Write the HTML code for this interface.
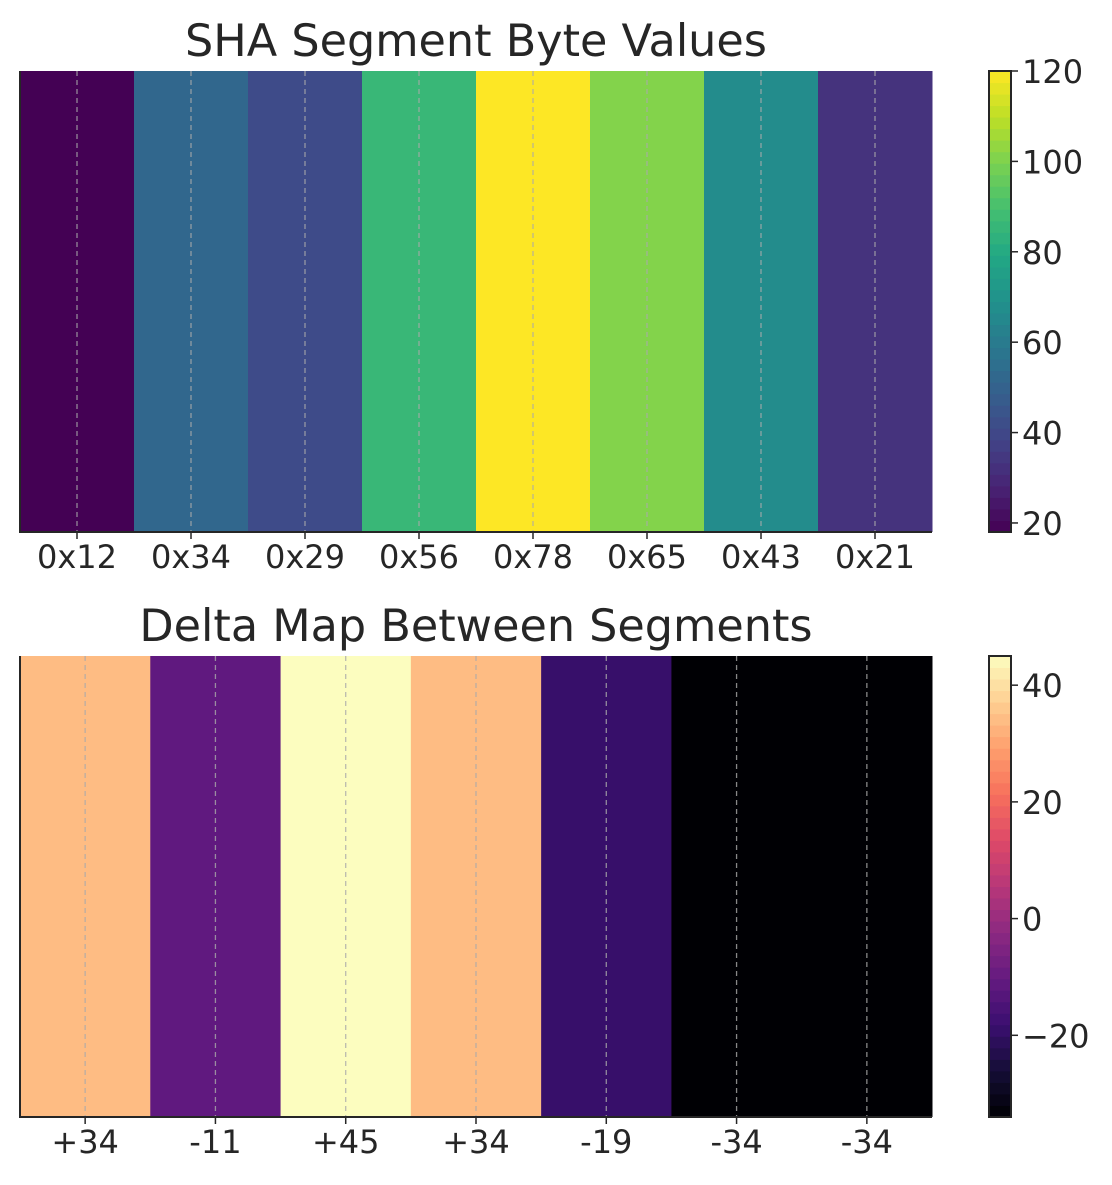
<!DOCTYPE html>
<html><head><meta charset="utf-8"><style>
body{margin:0;background:#fff;width:1112px;height:1180px;overflow:hidden}
svg text{font-family:"DejaVu Sans","Liberation Sans",sans-serif;fill:#262626}
</style></head><body>
<svg id="c" width="1112" height="1180" xmlns="http://www.w3.org/2000/svg"></svg>
<script>
const topCategories=["0x12","0x34","0x29","0x56","0x78","0x65","0x43","0x21"];
const topValues=[18,52,41,86,120,101,67,33];
const topTicks=[20,40,60,80,100,120];
const botCategories=["+34","-11","+45","+34","-19","-34","-34"];
const botValues=[34,-11,45,34,-19,-34,-34];
const botTicks=[-20,0,20,40];

const VIR=["#440154","#482475","#414487","#355f8d","#2a788e","#21918c","#22a884","#44bf70","#7ad151","#bddf26","#fde725"];
const MAG=["#000004","#140e36","#3b0f70","#641a80","#8c2981","#b73779","#de4968","#f7705c","#fe9f6d","#fecf92","#fcfdbf"];
function hx(h){return [1,3,5].map(i=>parseInt(h.substr(i,2),16));}
function cmap(a,t){t=Math.max(0,Math.min(1,t));const p=t*(a.length-1),i=Math.min(Math.floor(p),a.length-2),f=p-i;
 const c0=hx(a[i]),c1=hx(a[i+1]);return "rgb("+c0.map((v,k)=>Math.round(v+(c1[k]-v)*f)).join(",")+")";}
const NS="http://www.w3.org/2000/svg",svg=document.getElementById("c");
function el(t,at,txt){const e=document.createElementNS(NS,t);for(const k in at)e.setAttribute(k,at[k]);if(txt!=null)e.textContent=txt;svg.appendChild(e);return e;}

function panel(cats,vals,ticks,pal,title,y0,y1,prefix){
 const x0=20,x1=932,cx0=989,cx1=1011;
 const vmin=Math.min(...vals),vmax=Math.max(...vals);
 const w=(x1-x0)/cats.length;
 const xs=i=>x0+w*i;
 const cy=v=>y1-(v-vmin)/(vmax-vmin)*(y1-y0);
 let t=el("text",{x:(x0+x1)/2,y:y0-15,"text-anchor":"middle","font-size":"44.5"},title);
 
 
 vals.forEach((v,i)=>{
  let r=el("rect",{x:xs(i),y:y0,width:w+0.5,height:y1-y0,fill:cmap(pal,(v-vmin)/(vmax-vmin))});
  
  
  const gx=xs(i)+w/2;
  let g=el("line",{x1:gx,x2:gx,y1:y0,y2:y1,stroke:"#aaa","stroke-dasharray":"5,4","stroke-width":"1.3",opacity:"0.8"});
  
  
  el("line",{x1:gx,x2:gx,y1:y1,y2:y1+7,stroke:"#262626","stroke-width":"1.5"});
  let l=el("text",{x:gx,y:y1+36,"text-anchor":"middle","font-size":"32"},cats[i]);
  
  
 });
 el("path",{d:`M${x0} ${y0}V${y1}H${x1}`,fill:"none",stroke:"#262626","stroke-width":"2"});
 const N=40;
 for(let k=0;k<N;k++){
  const a=vmin+(vmax-vmin)*k/N,b=vmin+(vmax-vmin)*(k+1)/N;
  let s=el("rect",{x:cx0,y:cy(b),width:cx1-cx0,height:cy(a)-cy(b)+0.5,fill:cmap(pal,(k+0.5)/N)});
  
  
 }
 let fr=el("rect",{x:cx0,y:y0,width:cx1-cx0,height:y1-y0,fill:"none",stroke:"#262626","stroke-width":"2"});
 
 
 ticks.forEach(v=>{
  const y=cy(v);
  el("line",{x1:cx1,x2:cx1+7,y1:y,y2:y,stroke:"#262626","stroke-width":"1.5"});
  let tl=el("text",{x:cx1+11,y:y+12,"font-size":"32"},v<0?"\u2212"+(-v):String(v));
  
  
 });
}
panel(topCategories,topValues,topTicks,VIR,"SHA Segment Byte Values",71,532,"top");
panel(botCategories,botValues,botTicks,MAG,"Delta Map Between Segments",656,1117,"delta");
</script>
</body></html>
